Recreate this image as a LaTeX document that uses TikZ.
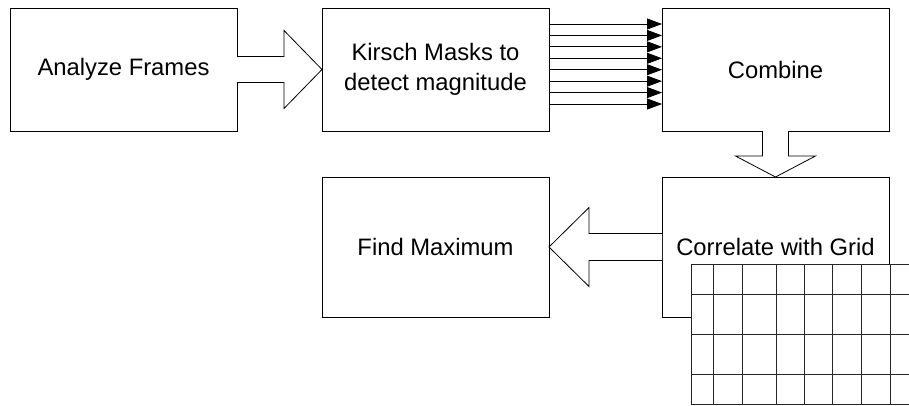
\documentclass[tikz,border=0pt]{standalone}
\usepackage{fontspec}
\setmainfont{Liberation Sans}
\usetikzlibrary{arrows.meta, calc}

\begin{document}
\begin{tikzpicture}[x=1pt, y=1pt,
    caja/.style={draw, line width=1pt, fill=white, minimum width=227pt, minimum height=123pt,
        inner sep=0pt, outer sep=0pt, align=center, font=\fontsize{23.8}{30}\selectfont},
    flecha/.style={draw, line width=0.8pt, fill=white, line join=miter},
    fina/.style={line width=0.8pt, -{Triangle[length=15pt, width=11pt]}},
    rejilla/.style={line width=0.9pt, black!85}]

                \useasboundingbox (0,0) rectangle (909,-405);

                % 1. BLOQUES DEL PROCESO
                \node[caja] (frames) at (123.5,-69.5) {Analyze Frames};
                \node[caja] (kirsch) at (435.5,-69.5) {Kirsch Masks to\\detect magnitude};
                \node[caja] (combine) at (775.5,-69.5) {Combine};
                \node[caja, minimum height=140pt] (correlate) at (775.5,-247) {Correlate with Grid};
                \node[caja, minimum height=140pt] (findmax) at (435.5,-247) {Find Maximum};

                % 2. FLECHAS ANCHAS ENTRE BLOQUES
                \draw[flecha] ($(frames.east)+(0,13)$) -- ++(47,0) -- ++(0,26) -- (kirsch.west)
                    -- ++(-38,-39) -- ++(0,26) -- ($(frames.east)+(0,-13)$);
                \draw[flecha] ($(combine.south)+(-13,0)$) -- ++(0,-25) -- ++(-27,0) -- (correlate.north)
                    -- ++(40,21) -- ++(-27,0) -- ($(combine.south)+(13,0)$);
                \draw[flecha] ($(correlate.west)+(0,13.5)$) -- ++(-73,0) -- ++(0,26) -- (findmax.east)
                    -- ++(40,-39.5) -- ++(0,26) -- ($(correlate.west)+(0,-13.5)$);

                % 3. OCHO MASCARAS (flechas finas)
                \foreach \i in {0,...,7} {
                    \pgfmathsetmacro\yy{-24-11.43*\i}
                    \draw[fina] (kirsch.east |- 0,\yy) -- (combine.west |- 0,\yy);
                }

                % 4. REJILLA sobre el bloque de correlacion
                \fill[white] (691,-264) rectangle (909,-404);
                \foreach \x in {691,713,742,776,804,832,861,890} { \draw[rejilla] (\x,-264) -- (\x,-404); }
                \foreach \y in {264,294,334,374,404} { \draw[rejilla] (691,-\y) -- (909,-\y); }

\end{tikzpicture}
\end{document}
